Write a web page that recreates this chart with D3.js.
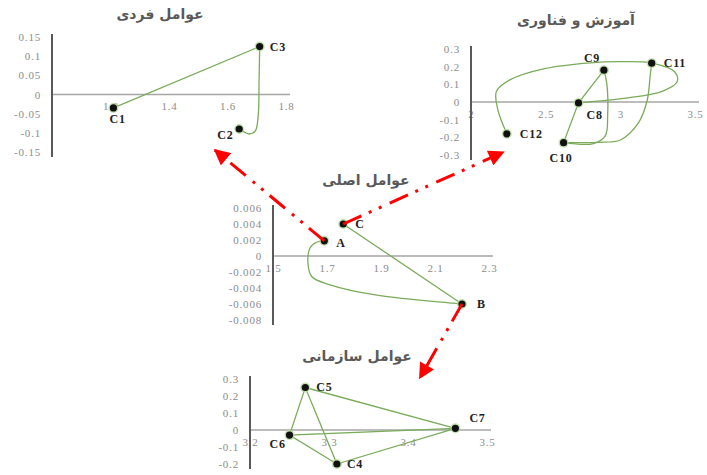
<!DOCTYPE html>
<html>
<head>
<meta charset="utf-8">
<script src="https://cdn.jsdelivr.net/npm/d3@7"></script>
<style>
body { margin: 0; background: #fff; }
</style>
</head>
<body>
<script>
// ---- data ----
var fardiTitle = "عوامل فردی";
var fardiTicksX = [1.2, 1.4, 1.6, 1.8];
var fardiTicksY = [0.15, 0.1, 0.05, 0, -0.05, -0.1, -0.15];
var fardiPoints = [["C1", 1.21, -0.035], ["C2", 1.64, -0.09], ["C3", 1.71, 0.125]];
var fardiLines = [
  [[1.21, -0.035], [1.71, 0.125]]
];
var fardiCurves = [
  [[1.71, 0.125], [1.708, 0.04], [1.705, -0.055], [1.695, -0.095], [1.674, -0.103], [1.646, -0.092]]
];

var fanavariTitle = "آموزش و فناوری";
var fanavariTicksX = [2, 2.5, 3, 3.5];
var fanavariTicksY = [0.3, 0.2, 0.1, 0, -0.1, -0.2, -0.3];
var fanavariPoints = [["C8", 2.72, -0.005], ["C9", 2.89, 0.18], ["C10", 2.62, -0.23], ["C11", 3.21, 0.22], ["C12", 2.24, -0.18]];
var fanavariLines = [
  [[2.62, -0.23], [2.72, -0.005], [2.89, 0.18]]
];
var fanavariCurves = [
  [[2.24, -0.18], [2.18, -0.045], [2.17, 0.06], [2.26, 0.125], [2.5, 0.19], [2.8, 0.222], [3.0, 0.228], [3.21, 0.22],
   [3.365, 0.17], [3.38, 0.114], [3.28, 0.06], [3.05, 0.023], [2.72, -0.005]],
  [[2.89, 0.18], [2.91, 0.1], [2.915, -0.08], [2.9, -0.19], [2.82, -0.235], [2.62, -0.23]],
  [[2.62, -0.23], [2.85, -0.228], [3.0, -0.215], [3.12, -0.12], [3.18, 0.01], [3.2, 0.15], [3.21, 0.22]]
];

var asliTitle = "عوامل اصلی";
var asliTicksX = [1.5, 1.7, 1.9, 2.1, 2.3];
var asliTicksY = [0.006, 0.004, 0.002, 0, -0.002, -0.004, -0.006, -0.008];
var asliPoints = [["A", 1.69, 0.0019], ["B", 2.2, -0.006], ["C", 1.76, 0.004]];
var asliLines = [
  [[1.76, 0.004], [2.2, -0.006]]
];
var asliCurves = [
  [[2.2, -0.006], [2.167, -0.0059], [1.885, -0.0049], [1.711, -0.0036], [1.644, -0.0026], [1.63, -0.0011],
   [1.637, 0.001], [1.663, 0.00175], [1.69, 0.0019]]
];

var sazmaniTitle = "عوامل سازمانی";
var sazmaniTicksX = [3.2, 3.3, 3.4, 3.5];
var sazmaniTicksY = [0.3, 0.2, 0.1, 0, -0.1, -0.2];
var sazmaniPoints = [["C4", 3.31, -0.2], ["C5", 3.27, 0.25], ["C6", 3.25, -0.03], ["C7", 3.46, 0.01]];
var sazmaniLines = [
  [[3.25, -0.03], [3.27, 0.25], [3.31, -0.2], [3.25, -0.03], [3.46, 0.01], [3.27, 0.25]],
  [[3.31, -0.2], [3.46, 0.01]]
];
var sazmaniCurves = [];

// arrows: from a point of the main chart to a spot in another chart (data units of that chart)
var arrows = [
  ["A", "fardi", [1.557, -0.145]],
  ["C", "fanavari", [2.216, -0.284]],
  ["B", "sazmani", [3.415, 0.306]]
];

// ---- layout ----
var layout = {
  fardi:    { x: [52, 286],  y: [152, 37],  title: [160, 19] },
  fanavari: { x: [471, 695], y: [155, 49],  title: [576, 25] },
  asli:     { x: [273, 489], y: [320, 208], title: [366, 185] },
  sazmani:  { x: [250, 487], y: [464, 379], title: [357, 361] }
};

var labelPos = {
  C1: [-4, 15, "start"], C2: [-22, 10, "start"], C3: [10, 4, "start"],
  C8: [8, 16, "start"], C9: [-20, -8, "start"], C10: [-14, 19, "start"], C11: [12, 4, "start"], C12: [13, 4, "start"],
  A: [12, 6, "start"], B: [15, 4, "start"], C: [12, 4, "start"],
  C4: [10, 4, "start"], C5: [11, 3, "start"], C6: [-20, 13, "start"], C7: [14, -6, "start"]
};

var W = 707, H = 475;
var svg = d3.select("body").append("svg")
  .attr("width", W)
  .attr("height", H)
  .style("display", "block");

svg.append("defs").append("marker")
  .attr("id", "head")
  .attr("viewBox", "0 0 10 10")
  .attr("refX", 9)
  .attr("refY", 5)
  .attr("markerUnits", "userSpaceOnUse")
  .attr("markerWidth", 17)
  .attr("markerHeight", 16)
  .attr("orient", "auto")
  .append("path")
  .attr("d", "M0,0 L10,5 L0,10 z")
  .attr("fill", "#ff0000")
  .attr("stroke", "none");

var scales = {};

function drawChart(key, title, ticksX, ticksY, points, lines, curves) {
  var L = layout[key];
  var xDom = [d3.min(ticksX.concat([key == "fardi" ? 1 : ticksX[0]])), d3.max(ticksX)];
  var x = d3.scaleLinear().domain(xDom).range(L.x);
  var y = d3.scaleLinear().domain([d3.min(ticksY), d3.max(ticksY)]).range(L.y);
  scales[key] = { x: x, y: y, points: points };

  var g = svg.append("g");

  g.append("text")
    .attr("x", L.title[0])
    .attr("y", L.title[1])
    .attr("text-anchor", "middle")
    .attr("font-family", "DejaVu Sans")
    .attr("font-weight", "bold")
    .attr("font-size", 14)
    .attr("fill", "#595959")
    .text(title);

  // y axis
  var ya = g.append("g")
    .attr("transform", "translate(" + L.x[0] + ",0)")
    .call(d3.axisLeft(y).tickValues(ticksY).tickSize(0).tickPadding(11).tickFormat(function(d) { return String(d); }));
  ya.select(".domain").remove();
  ya.selectAll("text")
    .attr("font-family", "Liberation Serif")
    .attr("font-size", 11)
    .attr("letter-spacing", 0.8)
    .attr("fill", "#8c8c8c");

  // x axis through zero
  var xa = g.append("g")
    .attr("transform", "translate(0," + y(0) + ")")
    .call(d3.axisBottom(x).tickValues(ticksX).tickSize(0).tickPadding(8).tickFormat(function(d) { return String(d); }));
  xa.select(".domain").remove();
  xa.selectAll("text")
    .attr("font-family", "Liberation Serif")
    .attr("font-size", 11)
    .attr("letter-spacing", 0.8)
    .attr("fill", "#8c8c8c");

  g.append("line")
    .attr("x1", L.x[0]).attr("x2", L.x[1] + 4)
    .attr("y1", y(0)).attr("y2", y(0))
    .attr("stroke", "#a6a6a6")
    .attr("stroke-width", 1.6);

  g.append("line")
    .attr("x1", L.x[0]).attr("x2", L.x[0])
    .attr("y1", L.y[1] - 3).attr("y2", L.y[0] + 5)
    .attr("stroke", "#595959")
    .attr("stroke-width", 2);

  var straight = d3.line().x(function(d) { return x(d[0]); }).y(function(d) { return y(d[1]); });
  var smooth = d3.line().x(function(d) { return x(d[0]); }).y(function(d) { return y(d[1]); })
    .curve(d3.curveCatmullRom.alpha(0.5));

  g.selectAll(".ln").data(lines).enter().append("path")
    .attr("d", straight)
    .attr("fill", "none")
    .attr("stroke", "#7aab5a")
    .attr("stroke-width", 1.3);

  g.selectAll(".cv").data(curves).enter().append("path")
    .attr("d", smooth)
    .attr("fill", "none")
    .attr("stroke", "#7aab5a")
    .attr("stroke-width", 1.3);

  g.selectAll(".halo").data(points).enter().append("circle")
    .attr("cx", function(d) { return x(d[1]); })
    .attr("cy", function(d) { return y(d[2]); })
    .attr("r", 5)
    .attr("fill", "#b5d99c")
    .attr("opacity", 0.8);

  g.selectAll(".dot").data(points).enter().append("circle")
    .attr("cx", function(d) { return x(d[1]); })
    .attr("cy", function(d) { return y(d[2]); })
    .attr("r", 3.6)
    .attr("fill", "#111");

  g.selectAll(".lbl").data(points).enter().append("text")
    .attr("x", function(d) { return x(d[1]) + labelPos[d[0]][0]; })
    .attr("y", function(d) { return y(d[2]) + labelPos[d[0]][1]; })
    .attr("text-anchor", function(d) { return labelPos[d[0]][2]; })
    .attr("font-family", "Liberation Serif")
    .attr("font-weight", "bold")
    .attr("font-size", 12)
    .attr("letter-spacing", 0.8)
    .attr("fill", "#222")
    .text(function(d) { return d[0]; });
}

drawChart("fardi", fardiTitle, fardiTicksX, fardiTicksY, fardiPoints, fardiLines, fardiCurves);
drawChart("fanavari", fanavariTitle, fanavariTicksX, fanavariTicksY, fanavariPoints, fanavariLines, fanavariCurves);
drawChart("asli", asliTitle, asliTicksX, asliTicksY, asliPoints, asliLines, asliCurves);
drawChart("sazmani", sazmaniTitle, sazmaniTicksX, sazmaniTicksY, sazmaniPoints, sazmaniLines, sazmaniCurves);

// red dash-dot-dot arrows
var main = scales.asli;
arrows.forEach(function(a) {
  var p = main.points.filter(function(d) { return d[0] == a[0]; })[0];
  var t = scales[a[1]];
  svg.append("line")
    .attr("x1", main.x(p[1]))
    .attr("y1", main.y(p[2]))
    .attr("x2", t.x(a[2][0]))
    .attr("y2", t.y(a[2][1]))
    .attr("stroke", "#ff0000")
    .attr("stroke-width", 3)
    .attr("stroke-dasharray", "20,8,3,8,3,9")
    .attr("marker-end", "url(#head)");
});
</script>
</body>
</html>
